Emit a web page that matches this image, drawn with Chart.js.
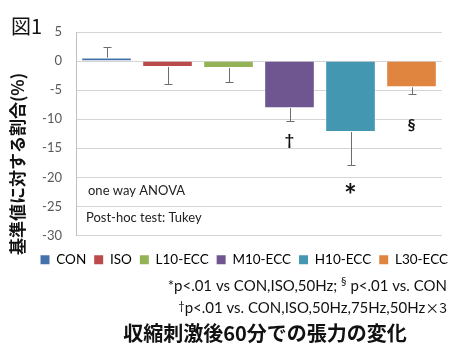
<!DOCTYPE html>
<html>
<head>
<meta charset="utf-8">
<script src="https://cdn.jsdelivr.net/npm/chart.js@4"></script>
<style>
  html, body { margin: 0; padding: 0; background: #fff; }
  #wrap { width: 454px; height: 347px; }
</style>
</head>
<body>
<div id="wrap"><canvas id="chart"></canvas></div>
<script>
const categories = ["CON", "ISO", "L10-ECC", "M10-ECC", "H10-ECC", "L30-ECC"];
const values = [0.6, -1.0, -1.2, -8.1, -12.2, -4.5];
const errors = [1.8, 2.9, 2.4, 2.25, 5.6, 1.15];
const marks = ["", "", "", "†", "*", "§"];
const markValues = [0, 0, 0, -13.5, -22, -10.9];
const yTicks = [5, 0, -5, -10, -15, -20, -25, -30];
const colors = ["#4672AC", "#BA4A4C", "#93B356", "#6F5690", "#4397B0", "#E0853F"];

const JP = "'Noto Sans CJK JP', sans-serif";
const LAT = "Lato, 'Noto Sans', sans-serif";

// one-sided error bars (away from zero), significance marks, notes and captions
const extras = {
  id: "extras",
  afterLayout(chart) {
    // legend row sits a little lower and reaches the right edge
    const lg = chart.legend;
    lg.right = 456;
    lg.top = 245;
  },
  afterDatasetsDraw(chart) {
    const ctx = chart.ctx;
    const meta = chart.getDatasetMeta(0);
    const y = chart.scales.y;
    const area = chart.chartArea;
    ctx.save();
    ctx.strokeStyle = "#6d6d6d";
    ctx.lineWidth = 1;
    meta.data.forEach((bar, i) => {
      const v = values[i];
      const end = v >= 0 ? v + errors[i] : v - errors[i];
      const x = Math.round(bar.x) + 0.5;
      const y0 = y.getPixelForValue(v);
      const y1 = Math.round(y.getPixelForValue(end)) + 0.5;
      ctx.beginPath();
      ctx.moveTo(x, y0);
      ctx.lineTo(x, y1);
      ctx.moveTo(x - 4, y1);
      ctx.lineTo(x + 4, y1);
      ctx.stroke();

      if (marks[i]) {
        ctx.fillStyle = "#111";
        ctx.textAlign = "center";
        ctx.textBaseline = "middle";
        ctx.font = marks[i] === "*" ? "bold 30px " + LAT : "bold 16px " + LAT;
        const my = y.getPixelForValue(markValues[i]) + (marks[i] === "*" ? 7 : 0);
        ctx.fillText(marks[i], bar.x, my);
      }
    });

    ctx.fillStyle = "#222";
    ctx.textAlign = "left";
    ctx.textBaseline = "middle";
    ctx.font = "13px " + LAT;
    ctx.fillText("one way ANOVA", area.left + 12, y.getPixelForValue(-22.3));
    ctx.fillText("Post-hoc test: Tukey", area.left + 10, y.getPixelForValue(-26.9));
    ctx.restore();
  },
  afterDraw(chart) {
    const ctx = chart.ctx;
    ctx.save();
    ctx.fillStyle = "#111";
    ctx.textBaseline = "middle";

    // figure number
    ctx.textAlign = "left";
    ctx.font = "20px " + JP;
    ctx.fillText("図1", 11, 26);

    // vertical axis title
    ctx.save();
    ctx.translate(18, 164);
    ctx.rotate(-Math.PI / 2);
    ctx.textAlign = "center";
    ctx.font = "bold 17px " + JP;
    ctx.fillText("基準値に対する割合(%)", 0, 0);
    ctx.restore();

    // footnotes, right aligned
    const right = 447;
    const fs = "15px " + LAT;
    const small = "11px " + LAT;
    const a = "*p<.01 vs CON,ISO,50Hz; ";
    const b = " p<.01 vs. CON";
    ctx.font = fs;
    const wa = ctx.measureText(a).width;
    const wb = ctx.measureText(b).width;
    ctx.font = small;
    const ws = ctx.measureText("§").width;
    let x = right - wa - ws - wb;
    ctx.font = fs;
    ctx.fillText(a, x, 286);
    ctx.font = small;
    ctx.fillText("§", x + wa, 281);
    ctx.font = fs;
    ctx.fillText(b, x + wa + ws, 286);

    const c = "p<.01 vs. CON,ISO,50Hz,75Hz,50Hz";
    const d = "×3";
    ctx.font = fs;
    const wc = ctx.measureText(c).width;
    ctx.font = "14px " + JP;
    const wd = ctx.measureText(d).width;
    ctx.font = small;
    const wt = ctx.measureText("†").width;
    x = right - wt - wc - wd;
    ctx.fillText("†", x, 306);
    ctx.font = fs;
    ctx.fillText(c, x + wt, 308);
    ctx.font = "14px " + JP;
    ctx.fillText(d, x + wt + wc, 308);

    // chart caption
    ctx.textAlign = "center";
    ctx.font = "bold 20px " + JP;
    ctx.fillText("収縮刺激後60分での張力の変化", 265, 333);
    ctx.restore();
  }
};

new Chart(document.getElementById("chart"), {
  type: "bar",
  data: {
    labels: categories,
    datasets: [{
      data: values,
      backgroundColor: colors,
      borderColor: "rgba(255,255,255,0.45)",
      borderWidth: 1,
      categoryPercentage: 1,
      barPercentage: 0.83
    }]
  },
  options: {
    responsive: true,
    maintainAspectRatio: false,
    animation: false,
    layout: { padding: { left: 0, right: 12, top: 32, bottom: 80 } },
    plugins: {
      tooltip: { enabled: false },
      title: { display: false },
      legend: {
        position: "bottom",
        align: "end",
        labels: {
          boxWidth: 9,
          boxHeight: 9,
          padding: 8,
          color: "#222",
          font: { family: LAT, size: 13.5 },
          generateLabels: () => categories.map((c, i) => ({
            text: c,
            fillStyle: colors[i],
            strokeStyle: colors[i],
            lineWidth: 0,
            index: i
          }))
        }
      }
    },
    scales: {
      x: {
        display: false,
        grid: { display: false }
      },
      y: {
        min: -30,
        max: 5,
        afterFit: s => { s.width = 76; },
        afterBuildTicks: s => { s.ticks = yTicks.map(v => ({ value: v })); },
        border: { display: true, color: "#bfbfbf" },
        grid: { color: "#d4d4d4", lineWidth: 1, drawTicks: false },
        ticks: {
          padding: 14,
          color: "#595959",
          font: { family: LAT, size: 13 }
        }
      }
    }
  },
  plugins: [extras]
});
</script>
</body>
</html>
